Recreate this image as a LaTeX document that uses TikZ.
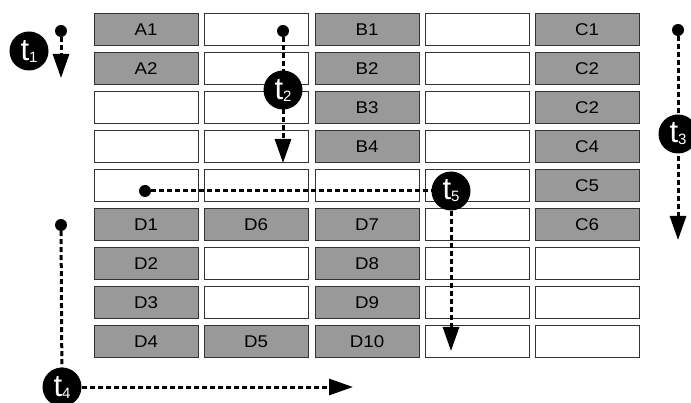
\documentclass[tikz,border=0pt]{standalone}
\usepackage{fontspec}
\setmainfont{Liberation Sans}
\newfontfamily\cellfont[FakeStretch=1.1]{Liberation Sans}
\usetikzlibrary{arrows.meta}
\definecolor{celle}{HTML}{999999}
\definecolor{bordo}{HTML}{333333}
\tikzstyle{cellagrigia} = [rectangle, draw=bordo, line width=1pt, fill=celle, minimum width=104pt, minimum height=32pt, inner sep=0pt, font=\cellfont\fontsize{17}{18}\selectfont]
\tikzstyle{cellabianca} = [cellagrigia, fill=white]
\tikzstyle{cerchionero} = [circle, fill=black, minimum size=39pt, inner sep=0pt, text=white]
\tikzstyle{punto} = [circle, fill=black, minimum size=12pt, inner sep=0pt]
\tikzstyle{tratto} = [line width=3pt, dash pattern=on 5pt off 3pt]
\tikzstyle{freccia} = [tratto, -{Triangle[length=24pt,width=16pt]}]
\newcommand{\tempo}[1]{{\fontsize{31}{31}\selectfont t}\raisebox{-2pt}{\fontsize{15}{15}\selectfont #1}}

\begin{document}
\begin{tikzpicture}[x=1pt, y=-1pt]
\useasboundingbox (0,0) rectangle (691,403);

% righe 1-5
\node (1a) [cellagrigia] at (146,30) {A1};
\node (1b) [cellabianca] at (256,30) {};
\node (1c) [cellagrigia] at (367,30) {B1};
\node (1d) [cellabianca] at (477,30) {};
\node (1e) [cellagrigia] at (587,30) {C1};

\node (2a) [cellagrigia] at (146,69) {A2};
\node (2b) [cellabianca] at (256,69) {};
\node (2c) [cellagrigia] at (367,69) {B2};
\node (2d) [cellabianca] at (477,69) {};
\node (2e) [cellagrigia] at (587,69) {C2};

\node (3a) [cellabianca] at (146,108) {};
\node (3b) [cellabianca] at (256,108) {};
\node (3c) [cellagrigia] at (367,108) {B3};
\node (3d) [cellabianca] at (477,108) {};
\node (3e) [cellagrigia] at (587,108) {C2};

\node (4a) [cellabianca] at (146,147) {};
\node (4b) [cellabianca] at (256,147) {};
\node (4c) [cellagrigia] at (367,147) {B4};
\node (4d) [cellabianca] at (477,147) {};
\node (4e) [cellagrigia] at (587,147) {C4};

\node (5a) [cellabianca] at (146,186) {};
\node (5b) [cellabianca] at (256,186) {};
\node (5c) [cellabianca] at (367,186) {};
\node (5d) [cellabianca] at (477,186) {};
\node (5e) [cellagrigia] at (587,186) {C5};

% righe 6-9
\node (6a) [cellagrigia] at (146,225) {D1};
\node (6b) [cellagrigia] at (256,225) {D6};
\node (6c) [cellagrigia] at (367,225) {D7};
\node (6d) [cellabianca] at (477,225) {};
\node (6e) [cellagrigia] at (587,225) {C6};

\node (7a) [cellagrigia] at (146,264) {D2};
\node (7b) [cellabianca] at (256,264) {};
\node (7c) [cellagrigia] at (367,264) {D8};
\node (7d) [cellabianca] at (477,264) {};
\node (7e) [cellabianca] at (587,264) {};

\node (8a) [cellagrigia] at (146,303) {D3};
\node (8b) [cellabianca] at (256,303) {};
\node (8c) [cellagrigia] at (367,303) {D9};
\node (8d) [cellabianca] at (477,303) {};
\node (8e) [cellabianca] at (587,303) {};

\node (9a) [cellagrigia] at (146,342) {D4};
\node (9b) [cellagrigia] at (256,342) {D5};
\node (9c) [cellagrigia] at (367,342) {D10};
\node (9d) [cellabianca] at (477,342) {};
\node (9e) [cellabianca] at (587,342) {};

% punti di partenza e arrivo
\node (p1) [punto] at (61,31) {};
\node (p2) [punto] at (283,31) {};
\node (p3) [punto] at (678,30) {};
\node (p4) [punto] at (61,225) {};
\node (p5) [punto] at (145,191) {};
\coordinate (e1) at (61,78);
\coordinate (e2) at (283,163);
\coordinate (e3) at (678,240);
\coordinate (e4) at (353,387);
\coordinate (e5) at (451,351);

\draw[freccia] (p1) -- (e1);
\draw[freccia] (p2) -- (e2);
\draw[freccia] (p3) -- (e3);

\node (t1) [cerchionero] at (29,51) {\tempo{1}};
\node (t2) [cerchionero] at (283,90) {\tempo{2}};
\node (t3) [cerchionero] at (678,134) {\tempo{3}};
\node (t4) [cerchionero] at (62,387) {\tempo{4}};
\node (t5) [cerchionero] at (451,191) {\tempo{5}};

\draw[tratto] (p4) -- (t4);
\draw[freccia] (t4) -- (e4);
\draw[tratto] (p5) -- (t5);
\draw[freccia] (t5) -- (e5);

\end{tikzpicture}
\end{document}
